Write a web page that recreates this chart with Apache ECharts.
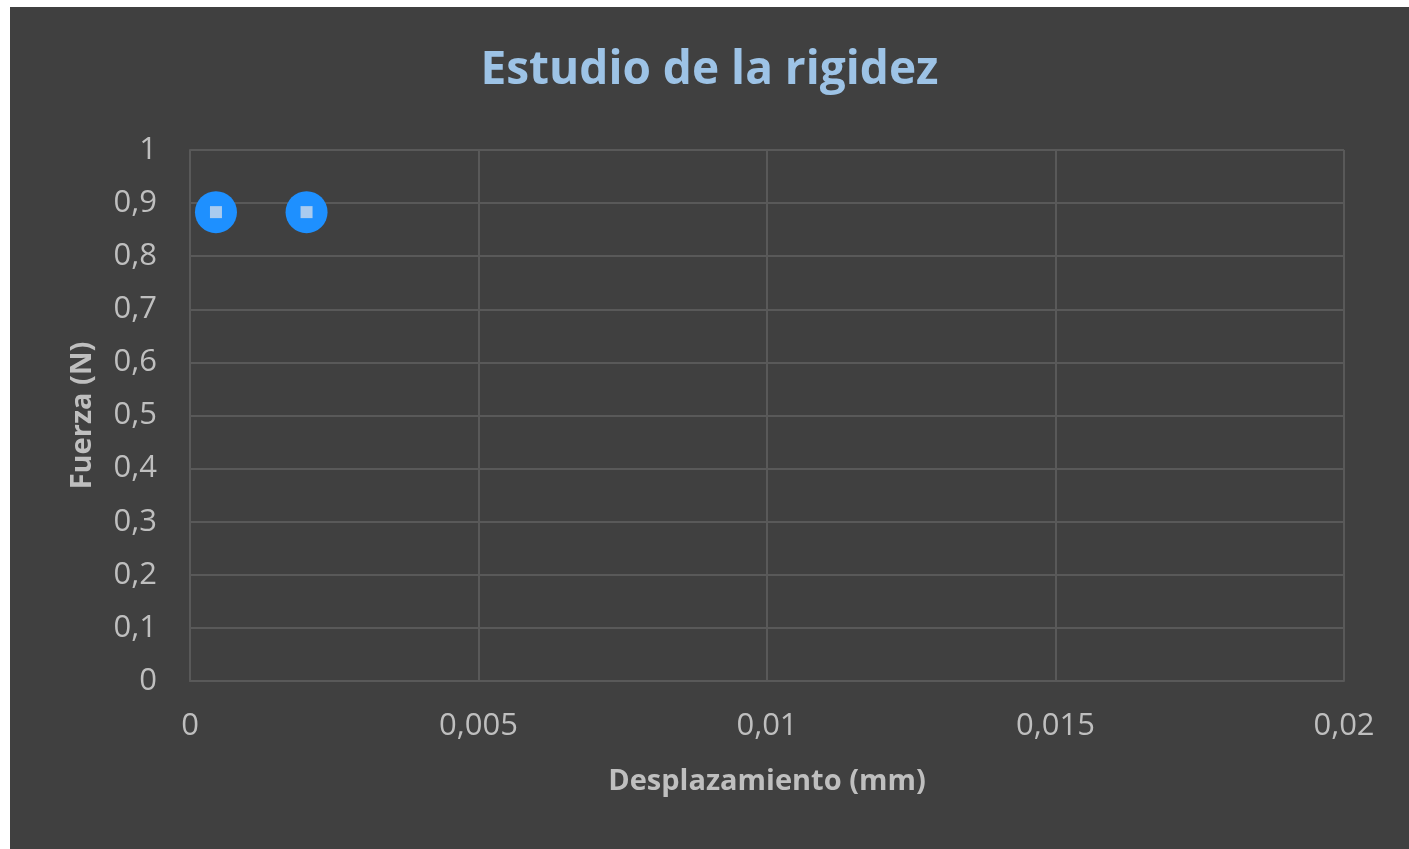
<!DOCTYPE html>
<html>
<head>
<meta charset="utf-8">
<script src="https://cdn.jsdelivr.net/npm/echarts@6/dist/echarts.min.js"></script>
<style>
  html, body { margin: 0; padding: 0; background: #ffffff; }
  #chart { position: absolute; left: 10px; top: 7px; width: 1399px; height: 842px; background: #404040; }
</style>
</head>
<body>
<div id="chart"></div>
<script>
// Measured displacement (mm) and force (N)
const desplazamiento = [0.00045, 0.00202];
const fuerza = [0.883, 0.883];

// Axis tick labels (decimal comma)
const xTickLabels = ['0', '0,005', '0,01', '0,015', '0,02'];
const yTickLabels = ['0', '0,1', '0,2', '0,3', '0,4', '0,5', '0,6', '0,7', '0,8', '0,9', '1'];

const points = desplazamiento.map((x, i) => [x, fuerza[i]]);

const font = '"Open Sans", "Noto Sans", sans-serif';
const gridColor = '#595959';
const labelColor = '#bfbfbf';

const chart = echarts.init(document.getElementById('chart'));
chart.setOption({
  backgroundColor: '#404040',
  animation: false,
  title: {
    text: 'Estudio de la rigidez',
    left: 'center',
    top: 36,
    textStyle: { color: '#9dc3e6', fontSize: 46, fontWeight: 'bold', fontFamily: font }
  },
  grid: { left: 180, top: 143, right: 65, bottom: 168 },
  xAxis: {
    type: 'value',
    min: 0, max: 0.02, interval: 0.005,
    name: 'Desplazamiento (mm)',
    nameLocation: 'middle',
    nameGap: 86,
    nameTextStyle: { color: labelColor, fontSize: 29, fontWeight: 'bold', fontFamily: font },
    axisLine: { show: true, lineStyle: { color: gridColor, width: 2 } },
    axisTick: { show: false },
    splitLine: { show: true, lineStyle: { color: gridColor, width: 2 } },
    axisLabel: {
      color: labelColor, fontSize: 31, fontFamily: font, margin: 30,
      formatter: (v, i) => xTickLabels[i]
    }
  },
  yAxis: {
    type: 'value',
    min: 0, max: 1, interval: 0.1,
    name: 'Fuerza (N)',
    nameLocation: 'middle',
    nameGap: 93,
    nameRotate: 90,
    nameTextStyle: { color: labelColor, fontSize: 29, fontWeight: 'bold', fontFamily: font },
    axisLine: { show: true, lineStyle: { color: gridColor, width: 2 } },
    axisTick: { show: false },
    splitLine: { show: true, lineStyle: { color: gridColor, width: 2 } },
    axisLabel: {
      color: labelColor, fontSize: 31, fontFamily: font, margin: 33,
      formatter: (v, i) => yTickLabels[i]
    }
  },
  series: [
    {
      type: 'scatter',
      data: points,
      symbol: 'circle',
      symbolSize: 42,
      itemStyle: { color: '#1e90ff', opacity: 1 },
      z: 2
    },
    {
      type: 'scatter',
      data: points,
      symbol: 'rect',
      symbolSize: 12,
      itemStyle: { color: '#a9cbef', opacity: 1 },
      z: 3
    }
  ]
});
</script>
</body>
</html>
